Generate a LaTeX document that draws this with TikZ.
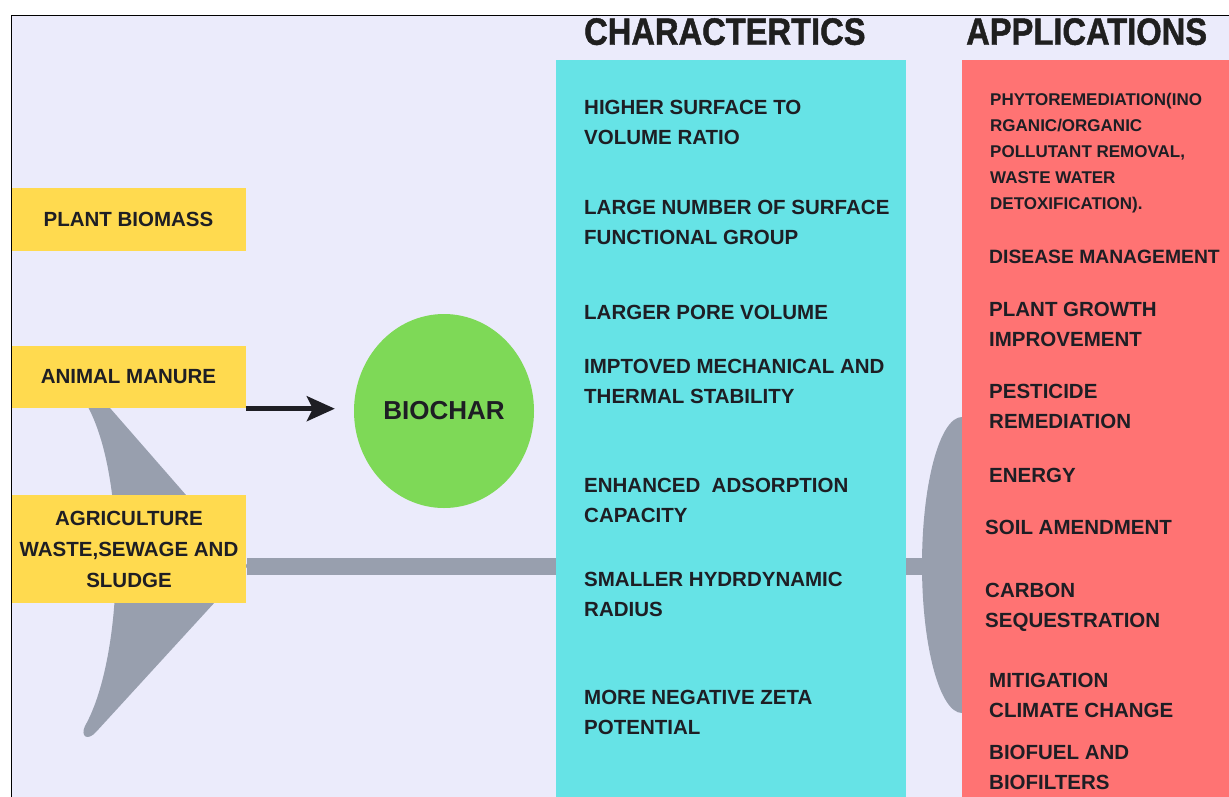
\documentclass[tikz,border=0pt]{standalone}
\usepackage{fontspec}
\setmainfont{Liberation Sans}
\newfontfamily\headfont[FakeStretch=0.86,FakeBold=1.2]{Liberation Sans}
\usetikzlibrary{shapes.geometric,arrows.meta}

\definecolor{bgpage}{HTML}{EBEBFB}
\definecolor{srcyellow}{HTML}{FFDA4F}
\definecolor{charleaf}{HTML}{7ED957}
\definecolor{charcyan}{HTML}{66E3E6}
\definecolor{appred}{HTML}{FF7373}
\definecolor{bonegray}{HTML}{989FAE}
\definecolor{inkdark}{HTML}{1E1E24}

\tikzset{
  srcbox/.style={rectangle,fill=srcyellow,inner sep=0pt,minimum width=234pt,align=center,
    text=inkdark,font=\fontsize{20.5}{31}\selectfont\bfseries},
  item/.style={anchor=north west,inner sep=0pt,align=left,text=inkdark,
    font=\fontsize{20.5}{30}\selectfont\bfseries},
  smallitem/.style={item,font=\fontsize{17}{26}\selectfont\bfseries},
  colhead/.style={anchor=north west,inner sep=0pt,text=black!88,
    font=\headfont\bfseries\fontsize{38}{40}\selectfont},
  column/.style={rectangle,inner sep=0pt,anchor=north west,minimum height=740pt},
  bone/.style={draw=bonegray,line width=17pt},
}

\begin{document}
\begin{tikzpicture}[x=1pt,y=-1pt]

        \clip (0,0) rectangle (1229,796);
        \fill[white] (0,0) rectangle (1229,796);
        \filldraw[fill=bgpage,draw=black,line width=1.5pt] (11.5,15.5) rectangle (1240,810);

        % tail and head of the fish
        \fill[bonegray] (84,400) -- (103,400) -- (248,566) -- (96,732)
          .. controls (88,741) and (80,737) .. (85,726)
          .. controls (125,655) and (128,470) .. (84,400) -- cycle;
        \node[ellipse,fill=bonegray,inner sep=0pt,minimum width=80pt,minimum height=296pt] (head) at (962,565) {};
        \coordinate (spine) at (247,566);

        \node[column,fill=charcyan,minimum width=350pt] (charcol) at (556,60) {};
        \draw[bone] (spine) -- (spine -| charcol.west);
        \draw[bone] (charcol.east |- spine) -- (head.west |- spine);
        \node[column,fill=appred,minimum width=280pt] (appcol) at (962,60) {};

        \begin{scope}[every node/.style={srcbox}]
          \node[minimum height=63pt] (plant)  at (128.5,219.5) {PLANT BIOMASS};
          \node[minimum height=62pt] (manure) at (128.5,377)   {ANIMAL MANURE};
          \node[minimum height=108pt] (agri)  at (129,549)     {AGRICULTURE\\WASTE,SEWAGE AND\\SLUDGE};
        \end{scope}

        \node[ellipse,fill=charleaf,inner sep=0pt,minimum width=180pt,minimum height=194pt,
          text=inkdark,font=\fontsize{26}{28}\selectfont\bfseries] (biochar) at (444,411) {BIOCHAR};
        \draw[-{Stealth[length=28pt,width=25pt,inset=6pt]},line width=4.5pt,inkdark]
          ([yshift=-0.5pt]manure.south east) -- ([xshift=-19pt,yshift=-0.5pt]biochar.west |- manure.south east);

        \node[colhead] (charhead) at (584,18) {CHARACTERTICS};
        \node[colhead] (apphead)  at (966,18) {APPLICATIONS};

        \begin{scope}[every node/.style={item}]
          \node (c1) at (584,100) {HIGHER SURFACE TO\\VOLUME RATIO};
          \node (c2) at (584,200) {LARGE NUMBER OF SURFACE\\FUNCTIONAL GROUP};
          \node (c3) at (584,305) {LARGER PORE VOLUME};
          \node (c4) at (584,359) {IMPTOVED MECHANICAL AND\\THERMAL STABILITY};
          \node (c5) at (584,478) {ENHANCED\ \ ADSORPTION\\CAPACITY};
          \node (c6) at (584,572) {SMALLER HYDRDYNAMIC\\RADIUS};
          \node (c7) at (584,690) {MORE NEGATIVE ZETA\\POTENTIAL};
        \end{scope}

        \begin{scope}[every node/.style={item}]
          \node[smallitem] (a1) at (990,93) {PHYTOREMEDIATION(INO\\RGANIC/ORGANIC\\POLLUTANT REMOVAL,\\WASTE WATER\\DETOXIFICATION).};
          \node[font=\fontsize{19.3}{30}\selectfont\bfseries] (a2) at (989,250) {DISEASE MANAGEMENT};
          \node (a3) at (989,302) {PLANT GROWTH\\IMPROVEMENT};
          \node (a4) at (989,384) {PESTICIDE\\REMEDIATION};
          \node (a5) at (989,468) {ENERGY};
          \node (a6) at (985,520) {SOIL AMENDMENT};
          \node (a7) at (985,583) {CARBON\\SEQUESTRATION};
          \node (a8) at (989,673) {MITIGATION\\CLIMATE CHANGE};
          \node (a9) at (989,745) {BIOFUEL AND\\BIOFILTERS};
        \end{scope}

\end{tikzpicture}
\end{document}
